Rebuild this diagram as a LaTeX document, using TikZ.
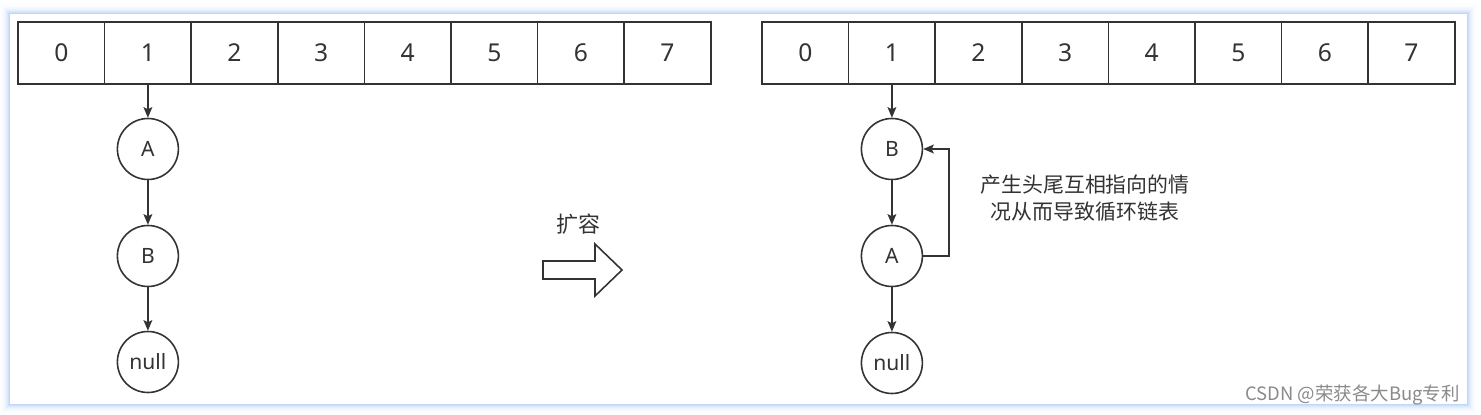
\documentclass[tikz,border=0pt]{standalone}
\usepackage{fontspec}
\setmainfont{Noto Sans}
\newfontfamily\cjk{Noto Sans CJK SC}
\usetikzlibrary{arrows.meta}
\definecolor{linegray}{HTML}{333333}
\definecolor{markgray}{HTML}{8A8A8A}
\definecolor{glowblue}{HTML}{8DB8F2}

\begin{document}
\begin{tikzpicture}[
        x=0.02cm, y=-0.02cm,
        cell/.style={rectangle, draw=linegray, line width=0.9pt, minimum width=1.732cm, minimum height=1.24cm, inner sep=0pt, text=linegray, font=\fontsize{14}{16}\selectfont},
        entry/.style={circle, draw=linegray, line width=0.9pt, minimum size=1.22cm, inner sep=0pt, text=linegray, font=\fontsize{12}{14}\selectfont},
        link/.style={draw=linegray, line width=0.9pt, -{Stealth[length=6pt, width=5pt, inset=1.2pt]}},
        note/.style={align=center, text=linegray, font=\cjk\fontsize{11.9}{15.3}\selectfont}
    ]
    \useasboundingbox (0,0) rectangle (1481,415);
    \fill[white] (0,0) rectangle (1481,415);
    \foreach \i/\c in {1/55,2/42,3/32,4/24,5/17,6/12,7/8,8/5,9/3}
        \draw[glowblue!\c, line width=1.2pt] (9-\i+0.5,13-\i+0.5) rectangle (1468+\i-0.5,405+\i-0.5);

    \node[cell] (l0) at (61.3,53) {0};
    \node[cell] (l1) at (147.9,53) {1};
    \node[cell] (l2) at (234.5,53) {2};
    \node[cell] (l3) at (321.1,53) {3};
    \node[cell] (l4) at (407.7,53) {4};
    \node[cell] (l5) at (494.3,53) {5};
    \node[cell] (l6) at (580.9,53) {6};
    \node[cell] (l7) at (667.5,53) {7};

    \node[cell] (r0) at (805.3,53) {0};
    \node[cell] (r1) at (891.9,53) {1};
    \node[cell] (r2) at (978.5,53) {2};
    \node[cell] (r3) at (1065.1,53) {3};
    \node[cell] (r4) at (1151.7,53) {4};
    \node[cell] (r5) at (1238.3,53) {5};
    \node[cell] (r6) at (1324.9,53) {6};
    \node[cell] (r7) at (1411.5,53) {7};

    \node[entry] (la) at (147.9,149) {A};
    \node[entry] (lb) at (147.9,256) {B};
    \node[entry] (lnull) at (147.9,362) {null};

    \node[entry] (rb) at (891.9,149) {B};
    \node[entry] (ra) at (891.9,256) {A};
    \node[entry] (rnull) at (891.9,363) {null};

    \draw[link] (l1) -- (la);
    \draw[link] (la) -- (lb);
    \draw[link] (lb) -- (lnull);

    \draw[link] (r1) -- (rb);
    \draw[link] (rb) -- (ra);
    \draw[link] (ra) -- (rnull);
    \draw[link] (ra.east) -- ++(26,0) |- (rb.east);

    \node[text=linegray, font=\cjk\fontsize{12.5}{14}\selectfont] (grow) at (578,224) {扩容};
    \draw[linegray, line width=0.9pt, line join=miter] (543,261) -- (595,261) -- (595,244) -- (622,270) -- (595,296) -- (595,279) -- (543,279) -- cycle;

    \node[note] (loopnote) at (1085,198) {产生头尾互相指向的情\\况从而导致循环链表};

    \node[anchor=base east, text=markgray, font=\cjk\fontsize{10.5}{12}\selectfont] (mark) at (1466,400) {CSDN @荣获各大Bug专利};
\end{tikzpicture}
\end{document}
